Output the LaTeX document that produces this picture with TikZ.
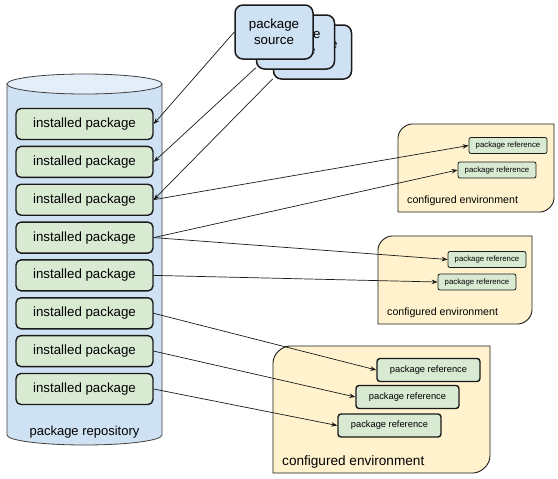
\documentclass[tikz,border=0pt]{standalone}
\usepackage{fontspec}
\setmainfont{Liberation Sans}
\usetikzlibrary{arrows.meta}
\definecolor{gfill}{HTML}{D9EAD3}
\definecolor{bfill}{HTML}{CFE2F3}
\definecolor{btop}{HTML}{E3EEF9}
\definecolor{yfill}{HTML}{FFF2CC}
\definecolor{edge}{HTML}{1A1A1A}
\definecolor{cyledge}{HTML}{404040}
\begin{document}
\begin{tikzpicture}[x=1pt,y=-1pt,
  inst/.style={draw=edge, line width=1.4pt, fill=gfill, rounded corners=5pt, minimum width=137pt, minimum height=31pt, inner sep=0pt, font=\fontsize{13.3}{16}\selectfont},
  srcbox/.style={draw=edge, line width=1.5pt, fill=bfill, rounded corners=8pt, minimum width=78pt, minimum height=54pt, inner sep=0pt, align=center, font=\fontsize{13.3}{16}\selectfont},
  refsm/.style={draw=edge, line width=0.8pt, fill=gfill, rounded corners=2pt, minimum width=78pt, minimum height=16pt, inner sep=0pt, font=\fontsize{7.8}{9}\selectfont},
  refbig/.style={draw=edge, line width=1.4pt, fill=gfill, rounded corners=3pt, minimum width=103pt, minimum height=23pt, inner sep=0pt, font=\fontsize{9.3}{11}\selectfont},
  envbox/.style={draw=edge, line width=0.9pt, fill=yfill},
  envlbl/.style={anchor=west, inner sep=0pt},
  conn/.style={draw=edge, line width=0.7pt, -{Stealth[length=6pt,width=4.5pt]}},
]
\useasboundingbox (0,0) rectangle (558,479);

% repository cylinder
\path[fill=bfill, draw=cyledge, line width=0.8pt] (7,84) -- (7,435)
  .. controls (7,440.5) and (41.7,445) .. (84.5,445)
  .. controls (127.3,445) and (162,440.5) .. (162,435) -- (162,84) -- cycle;
\draw[fill=btop, draw=cyledge, line width=0.8pt] (84.5,84) ellipse [x radius=77.5, y radius=10];
\node[font=\fontsize{13}{15}\selectfont] (repo) at (84.5,432) {package repository};

% installed packages
\foreach \i/\y in {1/124,2/161.9,3/199.7,4/237.6,5/275.4,6/313.3,7/351.1,8/389}
  \node[inst] (inst\i) at (84.5,\y) {installed package};

% package source stack
\node[srcbox] (src3) at (312.5,52) {package\\source};
\node[srcbox] (src2) at (295.5,42) {package\\source};
\node[srcbox] (src1) at (274,32) {package\\source};

% environment 1
\draw[envbox] (398,212) -- (398,138) .. controls (398,130.3) and (405.7,124) .. (412,124)
  -- (554,124) -- (554,198) .. controls (554,205.7) and (546.3,212) .. (540,212) -- cycle;
\node[refsm] (r1a) at (508,145.5) {package reference};
\node[refsm] (r1b) at (497,170) {package reference};
\node[envlbl, font=\fontsize{10.6}{12}\selectfont] (env1) at (407,201) {configured environment};

% environment 2
\draw[envbox] (378,324) -- (378,250) .. controls (378,242.3) and (385.7,236) .. (392,236)
  -- (532,236) -- (532,310) .. controls (532,317.7) and (524.3,324) .. (518,324) -- cycle;
\node[refsm] (r2a) at (487,259.5) {package reference};
\node[refsm] (r2b) at (477,282) {package reference};
\node[envlbl, font=\fontsize{10.6}{12}\selectfont] (env2) at (387,313) {configured environment};

% environment 3
\draw[envbox] (273,473) -- (273,363) .. controls (273,353.6) and (282.4,346) .. (290,346)
  -- (490,346) -- (490,456) .. controls (490,465.4) and (480.6,473) .. (473,473) -- cycle;
\node[refbig] (r3a) at (428.5,370) {package reference};
\node[refbig] (r3b) at (407.5,397) {package reference};
\node[refbig] (r3c) at (389.5,425.5) {package reference};
\node[envlbl, font=\fontsize{13.6}{16}\selectfont] (env3) at (282,462) {configured environment};

% connectors
\draw[conn] (src1.west) -- (inst1.east);
\draw[conn] (src2.213) -- (inst2.east);
\draw[conn] (src3.214) -- (inst3.east);
\draw[conn] (inst3.east) -- (r1a.west);
\draw[conn] (inst4.east) -- (r1b.west);
\draw[conn] (inst4.east) -- (r2a.west);
\draw[conn] (inst5.east) -- (r2b.west);
\draw[conn] (inst6.east) -- (r3a.west);
\draw[conn] (inst7.east) -- (r3b.west);
\draw[conn] (inst8.east) -- (r3c.west);
\end{tikzpicture}
\end{document}
